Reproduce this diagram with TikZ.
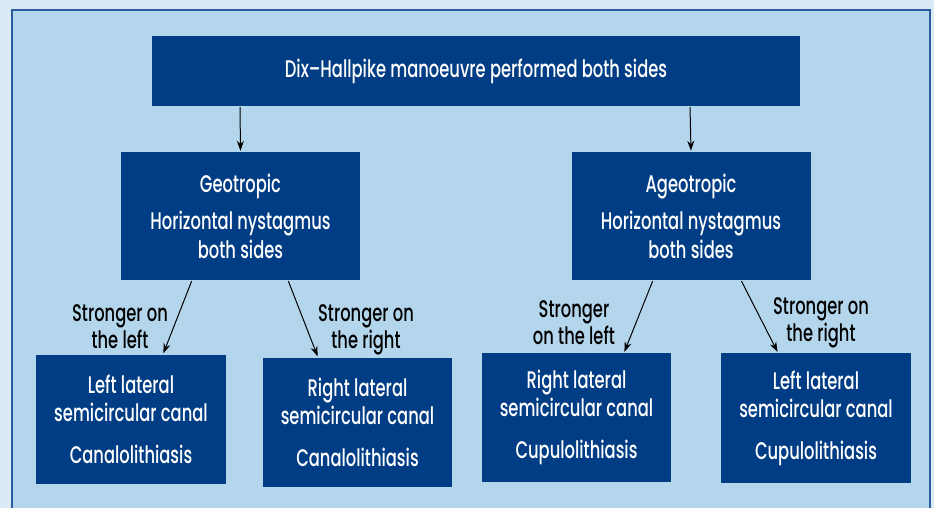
\documentclass[tikz,border=0pt]{standalone}
\usepackage{fontspec}
\setmainfont{Poppins}[UprightFont=* Medium, FakeStretch=0.68]
\usetikzlibrary{arrows.meta}
\definecolor{outerbg}{HTML}{DCEAF6}
\definecolor{panelbg}{HTML}{B3D6ED}
\definecolor{panelline}{HTML}{2A5DA0}
\definecolor{boxblue}{HTML}{003D84}
\tikzset{
  box/.style={rectangle, fill=boxblue, text=white, align=center, inner sep=0pt,
    font=\fontsize{24}{29}\selectfont},
  lbl/.style={align=center, text=black, inner sep=0pt, font=\fontsize{24}{27}\selectfont},
  arr/.style={-{Stealth[length=10pt,width=7pt]}, line width=1pt, black, shorten >=1pt, shorten <=1pt}
}
\begin{document}
\begin{tikzpicture}[x=1pt,y=-1pt]
\useasboundingbox (0,0) rectangle (934,508);
\clip (0,0) rectangle (934,508);
\fill[outerbg] (0,0) rectangle (934,508);
\draw[panelline, fill=panelbg, line width=1.5pt] (12,10) rectangle (930,530);
\node[box, minimum width=648pt, minimum height=70pt] (top) at (476,71) {Dix–Hallpike manoeuvre performed both sides};
\node[box, minimum width=239pt, minimum height=128pt] (geo) at (240.5,216) {Geotropic\\[8pt]Horizontal nystagmus\\both sides};
\node[box, minimum width=239pt, minimum height=128pt] (age) at (691,216) {Ageotropic\\[8pt]Horizontal nystagmus\\both sides};
\node[box, minimum width=190pt, minimum height=129pt, font=\fontsize{24}{28}\selectfont] (b1) at (131,419) {Left lateral\\semicircular canal\\[14pt]Canalolithiasis};
\node[box, minimum width=189pt, minimum height=129pt, font=\fontsize{24}{28}\selectfont] (b2) at (357.5,422) {Right lateral\\semicircular canal\\[14pt]Canalolithiasis};
\node[box, minimum width=189pt, minimum height=129pt, font=\fontsize{24}{28}\selectfont] (b3) at (576.5,417.5) {Right lateral\\semicircular canal\\[14pt]Cupulolithiasis};
\node[box, minimum width=190pt, minimum height=130pt, font=\fontsize{24}{28}\selectfont] (b4) at (816,418) {Left lateral\\semicircular canal\\[14pt]Cupulolithiasis};
\draw[arr] ([xshift=-236pt]top.south) -- (geo.north);
\draw[arr] ([xshift=214pt]top.south) -- (age.north);
\draw[arr] ([xshift=-48.5pt]geo.south) -- ([xshift=32pt]b1.north);
\draw[arr] ([xshift=47.5pt]geo.south) -- ([xshift=-39.5pt]b2.north);
\draw[arr] ([xshift=-38pt]age.south) -- ([xshift=47.5pt]b3.north);
\draw[arr] ([xshift=50pt]age.south) -- ([xshift=-38pt]b4.north);
\node[lbl] (l1) at (120,327) {Stronger on\\the left};
\node[lbl] (l2) at (366,330) {Stronger on\\the right};
\node[lbl] (l3) at (574,323) {Stronger\\on the left};
\node[lbl] (l4) at (821,323) {Stronger on\\the right};
\end{tikzpicture}
\end{document}
